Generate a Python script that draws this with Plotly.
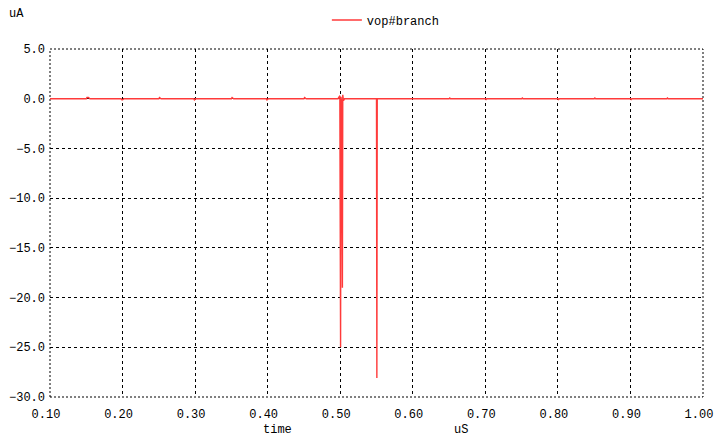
import plotly.graph_objects as go

# time in uS, current in uA
time = [0.100, 0.150, 0.151, 0.153, 0.155, 0.198, 0.199, 0.200, 0.202, 0.250, 0.251, 0.253,
        0.298, 0.299, 0.301, 0.350, 0.351, 0.353, 0.398, 0.399, 0.401, 0.450, 0.451, 0.453,
        0.497, 0.4995, 0.5005, 0.5010, 0.5020, 0.5030, 0.5035, 0.5045, 0.5060,
        0.5500, 0.5505, 0.5510, 0.650, 0.651, 0.652, 0.700, 0.701, 0.702, 0.750, 0.751, 0.752,
        0.800, 0.801, 0.802, 0.850, 0.851, 0.852, 0.900, 0.901, 0.902, 0.950, 0.951, 0.952, 1.000]
current = [0.0, 0.0, 0.12, 0.12, 0.0, 0.0, -0.12, -0.12, 0.0, 0.0, 0.12, 0.0,
           0.0, -0.12, 0.0, 0.0, 0.12, 0.0, 0.0, -0.12, 0.0, 0.0, 0.12, 0.0,
           0.0, 0.3, -25.0, 0.2, -0.3, -19.0, 0.4, -0.2, 0.0,
           0.0, -28.1, 0.0, 0.0, 0.08, 0.0, 0.0, -0.08, 0.0, 0.0, 0.08, 0.0,
           0.0, -0.08, 0.0, 0.0, 0.08, 0.0, 0.0, -0.08, 0.0, 0.0, 0.08, 0.0, 0.0]

x_ticks = [0.1, 0.2, 0.3, 0.4, 0.5, 0.6, 0.7, 0.8, 0.9, 1.0]
y_ticks = [5.0, 0.0, -5.0, -10.0, -15.0, -20.0, -25.0, -30.0]

FONT = "Liberation Mono"

fig = go.Figure()
fig.add_trace(go.Scatter(x=time, y=current, mode="lines", name="vop#branch",
                         line=dict(color="#ff3a3a", width=1.4)))

fig.update_layout(
    width=715, height=438,
    margin=dict(l=50, r=12, t=49, b=41, autoexpand=False),
    paper_bgcolor="white", plot_bgcolor="white",
    font=dict(family=FONT, size=12, color="black"),
    showlegend=True,
    legend=dict(orientation="h", x=0.424, y=1.125, xanchor="left", yanchor="top",
                font=dict(family=FONT, size=12, color="black"),
                bgcolor="rgba(0,0,0,0)", itemwidth=30),
    xaxis=dict(range=[0.1, 1.0], tickvals=x_ticks, tickformat=".2f",
               showgrid=True, gridcolor="black", griddash="3px,3px", gridwidth=1,
               zeroline=False, showline=False, ticks="", ticklabelstandoff=8,
               ticklabelshift=-4, ticklabeloverflow="allow", tickfont=dict(size=12)),
    yaxis=dict(range=[-30, 5], tickvals=y_ticks, tickformat=".1f",
               showgrid=True, gridcolor="black", griddash="3px,3px", gridwidth=1,
               zeroline=False, showline=False, ticks="", ticklabelstandoff=4,
               tickfont=dict(size=12)),
    annotations=[
        dict(text="uA", xref="paper", yref="paper", x=(7 - 50) / 653, y=1 + (49 - 14) / 348,
             xanchor="left", yanchor="middle", showarrow=False,
             font=dict(family=FONT, size=12)),
        dict(text="time", xref="paper", yref="paper", x=(277 - 50) / 653, y=-(430 - 397) / 348,
             xanchor="center", yanchor="middle", showarrow=False,
             font=dict(family=FONT, size=12)),
        dict(text="uS", xref="paper", yref="paper", x=(461 - 50) / 653, y=-(430 - 397) / 348,
             xanchor="center", yanchor="middle", showarrow=False,
             font=dict(family=FONT, size=12)),
    ],
    shapes=[dict(type="rect", xref="paper", yref="paper", x0=0, y0=0, x1=1, y1=1,
                 line=dict(color="black", width=1, dash="2px,2px"), layer="below")],
)

fig.write_html("out.html")
